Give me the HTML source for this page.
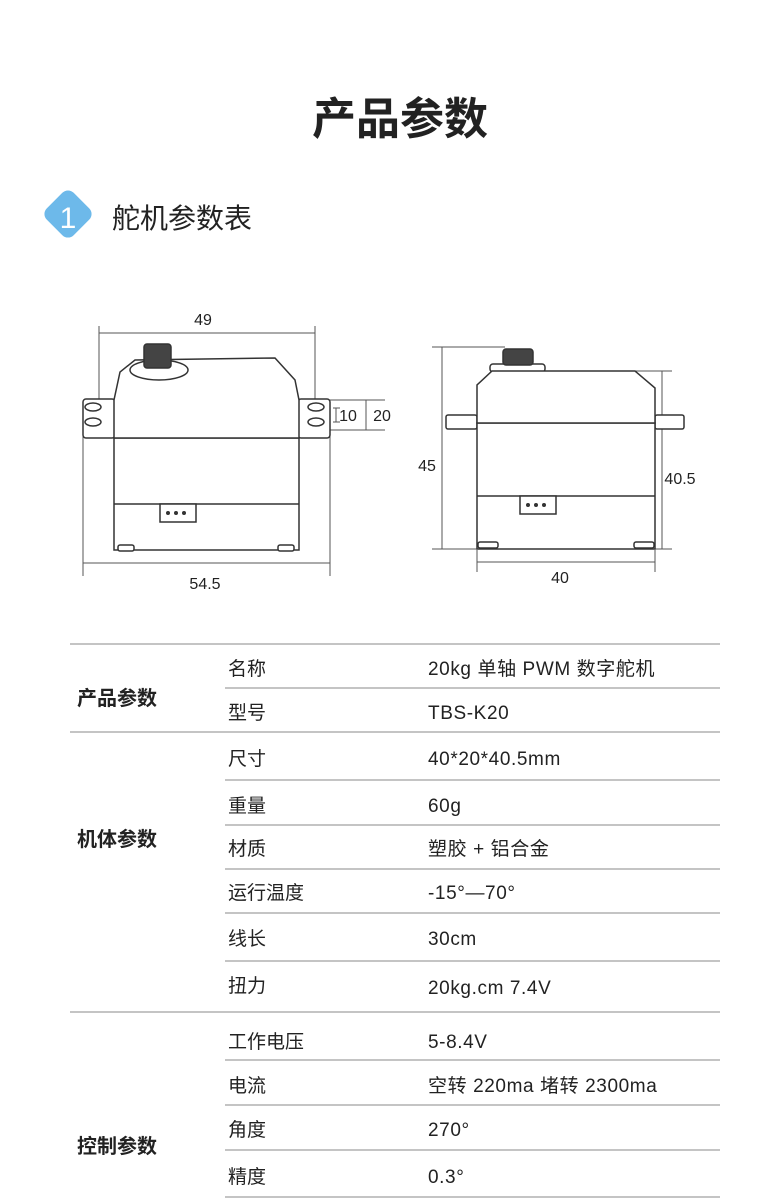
<!DOCTYPE html>
<html><head><meta charset="utf-8"><style>
html,body{margin:0;padding:0;background:#fff;}
svg{display:block;}
text{font-family:"Liberation Sans","Noto Sans CJK SC",sans-serif;fill:#222;}
</style></head><body>
<svg width="776" height="1200" viewBox="0 0 776 1200" xmlns="http://www.w3.org/2000/svg">
<text x="400" y="134" font-size="44" font-weight="bold" text-anchor="middle" fill="#111">产品参数</text>
<rect x="49" y="195" width="38" height="38" rx="8" fill="#6db9ea" transform="rotate(45 68 214)"/>
<text x="68" y="228" font-size="30" text-anchor="middle" style="fill:#fff">1</text>
<text x="112" y="228" font-size="28" fill="#222">舵机参数表</text>

<g stroke="#555" stroke-width="1" fill="none">
<line x1="99" y1="326" x2="99" y2="400"/><line x1="315" y1="326" x2="315" y2="400"/>
<line x1="99" y1="333" x2="315" y2="333"/>
<line x1="83" y1="420" x2="83" y2="576"/><line x1="330" y1="420" x2="330" y2="576"/>
<line x1="83" y1="563" x2="330" y2="563"/>
<line x1="300" y1="400" x2="385" y2="400"/><line x1="330" y1="430" x2="385" y2="430"/>
<line x1="366" y1="400" x2="366" y2="430"/>
<line x1="333" y1="408" x2="340" y2="408"/><line x1="333" y1="422" x2="340" y2="422"/><line x1="336" y1="408" x2="336" y2="422"/>
</g>
<g stroke="#333" stroke-width="1.5" fill="#fff">
<rect x="83" y="399" width="32" height="39" rx="3"/>
<rect x="298" y="399" width="32" height="39" rx="3"/>
<rect x="114" y="438" width="185" height="112"/>
<line x1="114" y1="504" x2="299" y2="504"/>
<rect x="160" y="504" width="36" height="18"/>
<polygon points="114,438 114,400 120,372 135,360 275,358 295,380 299,400 299,438"/>
<ellipse cx="159" cy="370" rx="29" ry="10"/>
<rect x="144" y="344" width="27" height="24" rx="3" fill="#444"/>
<ellipse cx="93" cy="407" rx="8" ry="4"/><ellipse cx="93" cy="422" rx="8" ry="4"/>
<ellipse cx="316" cy="407" rx="8" ry="4"/><ellipse cx="316" cy="422" rx="8" ry="4"/>
<rect x="118" y="545" width="16" height="6" rx="2"/><rect x="278" y="545" width="16" height="6" rx="2"/>
</g>
<g fill="#333"><circle cx="168" cy="513" r="2"/><circle cx="176" cy="513" r="2"/><circle cx="184" cy="513" r="2"/></g>
<text x="203" y="325" font-size="16" text-anchor="middle" fill="#333">49</text>
<text x="205" y="589" font-size="16" text-anchor="middle" fill="#333">54.5</text>
<text x="348" y="421" font-size="16" text-anchor="middle" fill="#333">10</text>
<text x="382" y="421" font-size="16" text-anchor="middle" fill="#333">20</text>

<g stroke="#555" stroke-width="1" fill="none">
<line x1="442" y1="347" x2="442" y2="549"/>
<line x1="432" y1="347" x2="505" y2="347"/>
<line x1="432" y1="549" x2="672" y2="549"/>
<line x1="662" y1="371" x2="662" y2="549"/>
<line x1="635" y1="371" x2="672" y2="371"/>
<line x1="477" y1="562" x2="655" y2="562"/>
<line x1="477" y1="550" x2="477" y2="572"/><line x1="655" y1="550" x2="655" y2="572"/>
</g>
<g stroke="#333" stroke-width="1.5" fill="#fff">
<rect x="446" y="415" width="31" height="14" rx="2"/>
<rect x="655" y="415" width="29" height="14" rx="2"/>
<rect x="477" y="423" width="178" height="126"/>
<line x1="477" y1="496" x2="655" y2="496"/>
<rect x="520" y="496" width="36" height="18"/>
<rect x="490" y="364" width="55" height="8" rx="3"/>
<polygon points="477,423 477,385 492,371 635,371 655,388 655,423"/>
<rect x="503" y="349" width="30" height="16" rx="3" fill="#444"/>
<rect x="478" y="542" width="20" height="6" rx="2"/><rect x="634" y="542" width="20" height="6" rx="2"/>
</g>
<g fill="#333"><circle cx="528" cy="505" r="2"/><circle cx="536" cy="505" r="2"/><circle cx="544" cy="505" r="2"/></g>
<text x="427" y="471" font-size="16" text-anchor="middle" fill="#333">45</text>
<text x="680" y="484" font-size="16" text-anchor="middle" fill="#333">40.5</text>
<text x="560" y="583" font-size="16" text-anchor="middle" fill="#333">40</text>

<g stroke="#b0b0b0" stroke-width="1.5">
<line x1="70" y1="644" x2="720" y2="644"/>
<line x1="225" y1="688" x2="720" y2="688"/>
<line x1="70" y1="732" x2="720" y2="732"/>
<line x1="225" y1="780" x2="720" y2="780"/>
<line x1="225" y1="825" x2="720" y2="825"/>
<line x1="225" y1="869" x2="720" y2="869"/>
<line x1="225" y1="913" x2="720" y2="913"/>
<line x1="225" y1="961" x2="720" y2="961"/>
<line x1="70" y1="1012" x2="720" y2="1012"/>
<line x1="225" y1="1060" x2="720" y2="1060"/>
<line x1="225" y1="1105" x2="720" y2="1105"/>
<line x1="225" y1="1150" x2="720" y2="1150"/>
<line x1="225" y1="1197" x2="720" y2="1197"/>
</g>
<g font-size="20" font-weight="bold">
<text x="77" y="705">产品参数</text>
<text x="77" y="846">机体参数</text>
<text x="77" y="1153">控制参数</text>
</g>
<g font-size="19">
<text x="228" y="675">名称</text><text x="428" y="675" letter-spacing="0.6">20kg 单轴 PWM 数字舵机</text>
<text x="228" y="719">型号</text><text x="428" y="719" letter-spacing="0.6">TBS-K20</text>
<text x="228" y="765">尺寸</text><text x="428" y="765" letter-spacing="0.6">40*20*40.5mm</text>
<text x="228" y="812">重量</text><text x="428" y="812" letter-spacing="0.6">60g</text>
<text x="228" y="855">材质</text><text x="428" y="855" letter-spacing="0.6">塑胶 + 铝合金</text>
<text x="228" y="899">运行温度</text><text x="428" y="899" letter-spacing="0.6">-15°—70°</text>
<text x="228" y="945">线长</text><text x="428" y="945" letter-spacing="0.6">30cm</text>
<text x="228" y="992">扭力</text><text x="428" y="994" letter-spacing="0.6">20kg.cm 7.4V</text>
<text x="228" y="1048">工作电压</text><text x="428" y="1048" letter-spacing="0.6">5-8.4V</text>
<text x="228" y="1092">电流</text><text x="428" y="1092" letter-spacing="0.6">空转 220ma  堵转 2300ma</text>
<text x="228" y="1136">角度</text><text x="428" y="1136" letter-spacing="0.6">270°</text>
<text x="228" y="1183">精度</text><text x="428" y="1183" letter-spacing="0.6">0.3°</text>
</g>
</svg>
</body></html>
